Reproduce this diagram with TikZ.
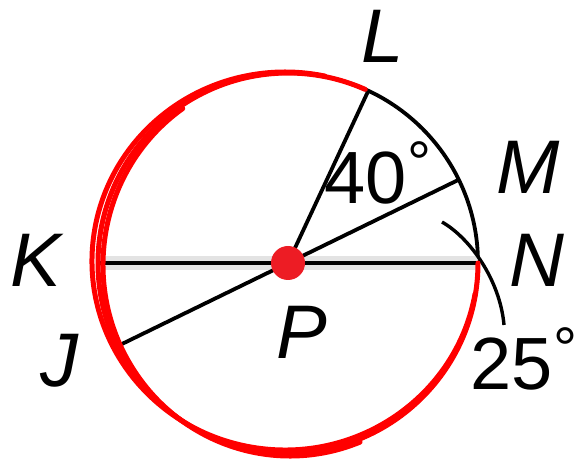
\documentclass[tikz,border=0pt]{standalone}
\usepackage{fontspec}
\setmainfont{Liberation Sans}
\usetikzlibrary{arrows.meta,calc}
\definecolor{dotred}{HTML}{ED1C24}
\newcommand{\degmark}{\raisebox{20pt}{\fontsize{60}{60}\selectfont °}}

\begin{document}
\begin{tikzpicture}[>=Latex,x=1pt,y=1pt,
  seg/.style={black,line width=3.8pt},
  redpen/.style={red,line width=5pt,line cap=round},
  lbl/.style={inner sep=0pt,font=\fontsize{76}{80}\selectfont\itshape},
  deglbl/.style={inner sep=0pt,font=\fontsize{74}{80}\selectfont}]
  \useasboundingbox (0,0) rectangle (576,463);
  \coordinate (P) at (288,200);
  \coordinate (L) at ($(P)+(65:190pt)$);
  \coordinate (M) at ($(P)+(26:190pt)$);
  \coordinate (N) at ($(P)+(0:190pt)$);
  \coordinate (K) at ($(P)+(180:190pt)$);
  \coordinate (J) at ($(P)+(206:190pt)$);
  \draw[seg] (P) circle[radius=190pt];
  \draw[gray!22,line width=14pt] (K) -- (N);
  \draw[seg] (K) -- (N);
  \draw[seg] (J) -- (M);
  \draw[seg] (P) -- (L);
  \coordinate (tickA) at (442,241);
  \coordinate (tickB) at (504,138);
  \draw[seg,line width=3.4pt] (tickA) .. controls (470,225) and (500,183) .. (tickB);
  \draw[redpen] (N) arc[start angle=0,end angle=-294,radius=190pt];
  \draw[redpen] ($(P)+(-3,2)+(-10:193pt and 189pt)$)
    arc[start angle=-10,end angle=-282,x radius=193pt,y radius=189pt];
  \draw[redpen] ($(P)+(2,-2)+(125:187pt and 191pt)$)
    arc[start angle=125,end angle=292,x radius=187pt,y radius=191pt];
  \fill[dotred] (P) circle[radius=17pt];
  \node[lbl] (lblL) at (383,427) {L};
  \node[lbl] (lblM) at (528,296) {M};
  \node[lbl] (lblN) at (537,203) {N};
  \node[lbl] (lblK) at (36,203) {K};
  \node[lbl] (lblJ) at (59,102) {J};
  \node[lbl] (lblP) at (302,131) {P};
  \node[deglbl] (arcLM) at (378,290) {40\degmark};
  \node[deglbl] (arcMN) at (524,104) {25\degmark};
\end{tikzpicture}
\end{document}
